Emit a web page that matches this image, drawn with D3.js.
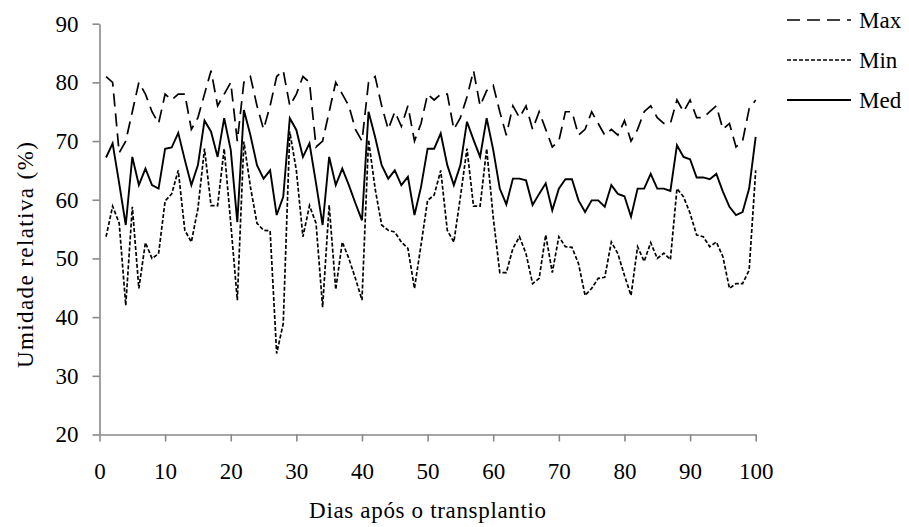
<!DOCTYPE html>
<html>
<head>
<meta charset="utf-8">
<script src="https://cdn.jsdelivr.net/npm/d3@7/dist/d3.min.js"></script>
<style>
  html, body { margin: 0; padding: 0; background: #fff; }
  svg { display: block; font-family: "Liberation Serif", "Times New Roman", serif; }
</style>
</head>
<body>
<div id="chart"></div>
<script>
// dias 1..100
const days = d3.range(1, 101);

const maxValues = [
  81, 80, 68, 70, 75, 80, 78, 75, 73, 78, 77, 78, 78, 72, 74, 78, 82, 76, 78, 80,
  70, 80, 81, 76, 72, 76, 81, 82, 76, 78, 81, 80, 69, 70, 75, 80, 78, 76, 72, 70,
  80, 81, 76, 72, 75, 72.5, 76, 70, 73, 78, 77, 78, 78, 72, 74, 77.5, 82, 76, 78.6, 79.5,
  75, 71, 76, 74, 76, 72, 75, 72, 69, 70, 75, 75, 71, 72, 75, 73, 71, 72, 71, 73.5,
  70, 72, 75, 76, 74, 73, 73, 77, 75, 77, 74, 74, 75, 76, 72, 73, 69, 70, 75.5, 77,
];

const minValues = [
  53.7, 58.9, 56, 42, 58.8, 44.9, 52.7, 50, 50.8, 59.8, 61, 65, 54.8, 52.8, 58.5, 68.7, 59, 59, 68.7, 56,
  42.9, 69.9, 62.2, 56, 54.8, 54.7, 33.8, 38.9, 71.6, 65, 53.7, 59, 56, 41.7, 59.1, 44.7, 52.8, 50, 46.6, 42.9,
  70.2, 61.9, 55.7, 54.8, 54.5, 52.8, 51.7, 44.9, 52.3, 59.9, 60.8, 65, 54.8, 52.8, 60.5, 68.7, 58.9, 58.9, 68.7, 57,
  47.6, 47.6, 51.7, 53.7, 50.8, 45.7, 46.6, 54, 47.6, 53.7, 52, 51.9, 49.1, 43.7, 44.9, 46.6, 46.8, 52.8, 50.8, 47.1,
  43.7, 52, 49.5, 52.7, 50, 50.9, 49.8, 61.9, 60.5, 57.7, 54, 53.7, 52, 52.8, 50.3, 44.9, 45.7, 45.7, 48, 65,
];

const medValues = [
  67.2, 69.6, 62.8, 55.7, 67.3, 62.5, 65.3, 62.5, 61.9, 68.7, 68.9, 71.4, 66.8, 62.5, 65.9, 73.5, 71.6, 67.3, 73.9, 68.5,
  56.2, 75.3, 71, 65.9, 63.6, 65, 57.4, 60.5, 73.9, 71.9, 67.3, 69.6, 62.8, 55.7, 67.3, 62.5, 65.3, 62.5, 59.4, 56.5,
  75, 70.7, 65.9, 63.6, 65, 62.5, 63.9, 57.4, 62.2, 68.7, 68.7, 71.3, 65.9, 62.5, 65.9, 73.3, 70.2, 67.3, 73.9, 68.5,
  61.9, 59.2, 63.6, 63.6, 63.3, 59.1, 61, 62.8, 58.2, 61.9, 63.5, 63.5, 59.9, 57.9, 59.9, 59.9, 58.8, 62.5, 61, 60.6,
  57.1, 61.9, 61.9, 64.4, 61.9, 61.9, 61.5, 69.3, 67.3, 66.9, 63.8, 63.8, 63.5, 64.4, 61.4, 58.8, 57.4, 57.9, 61.9, 70.7,
];

const seriesNames = ['Max', 'Min', 'Med'];
const xTicks = d3.range(0, 101, 10);
const yTicks = d3.range(20, 91, 10);
const xTitle = 'Dias após o transplantio';
const yTitle = 'Umidade relativa (%)';

const series = [
  {name: seriesNames[0], values: maxValues, dash: '13,7', width: 1.7},
  {name: seriesNames[1], values: minValues, dash: '4,2', width: 1.7},
  {name: seriesNames[2], values: medValues, dash: null, width: 1.9},
];

const W = 909, H = 527;
const axisColor = '#898989';
const fontSize = 23;

const svg = d3.select('#chart').append('svg')
  .attr('width', W)
  .attr('height', H);

const x = d3.scaleLinear()          // dias -> px
  .domain([0, 100])
  .range([99.5, 755.7]);

const y = d3.scaleLinear()          // umidade -> px
  .domain([20, 90])
  .range([434.5, 23.7]);

// eixos
const yAxis = svg.append('g')
  .attr('transform', `translate(${x(0)},0)`)
  .call(d3.axisLeft(y).tickValues(yTicks).tickSize(7).tickSizeOuter(0).tickPadding(14));

const xAxis = svg.append('g')
  .attr('transform', `translate(0,${y(20)})`)
  .call(d3.axisBottom(x).tickValues(xTicks).tickSize(7).tickSizeOuter(0).tickPadding(21));

[xAxis, yAxis].forEach(ax => {
  ax.select('.domain').attr('stroke', axisColor).attr('stroke-width', 1.6);
  ax.selectAll('.tick line').attr('stroke', axisColor).attr('stroke-width', 1.6);
  ax.selectAll('.tick text')
    .attr('fill', '#000')
    .style('font-family', '"Liberation Serif", "Times New Roman", serif')
    .style('font-size', fontSize + 'px');
});

// linhas
const line = d3.line()
  .x((d, i) => x(days[i]))
  .y(d => y(d));

svg.append('g').selectAll('path')
  .data(series)
  .enter().append('path')
    .attr('d', d => line(d.values))
    .attr('fill', 'none')
    .attr('stroke', '#000')
    .attr('stroke-width', d => d.width)
    .attr('stroke-dasharray', d => d.dash)
    .attr('stroke-linejoin', 'miter');

// titulos
svg.append('text')
  .attr('x', (x(0) + x(100)) / 2)
  .attr('y', 518)
  .attr('text-anchor', 'middle')
  .attr('textLength', 237)
  .attr('lengthAdjust', 'spacing')
  .style('font-size', fontSize + 'px')
  .text(xTitle);

svg.append('text')
  .attr('transform', `translate(33,${(y(20) + y(90)) / 2 + 26}) rotate(-90)`)
  .attr('text-anchor', 'middle')
  .attr('textLength', 226)
  .attr('lengthAdjust', 'spacing')
  .style('font-size', fontSize + 'px')
  .text(yTitle);

// legenda
const legend = svg.append('g').selectAll('g')
  .data(series)
  .enter().append('g')
    .attr('transform', (d, i) => `translate(787,${20 + i * 40})`);

legend.append('line')
  .attr('x1', 0).attr('x2', 64)
  .attr('stroke', '#000')
  .attr('stroke-width', d => d.width)
  .attr('stroke-dasharray', d => d.dash);

legend.append('text')
  .attr('x', 72)
  .attr('y', 8)
  .style('font-size', fontSize + 'px')
  .text(d => d.name);
</script>
</body>
</html>
